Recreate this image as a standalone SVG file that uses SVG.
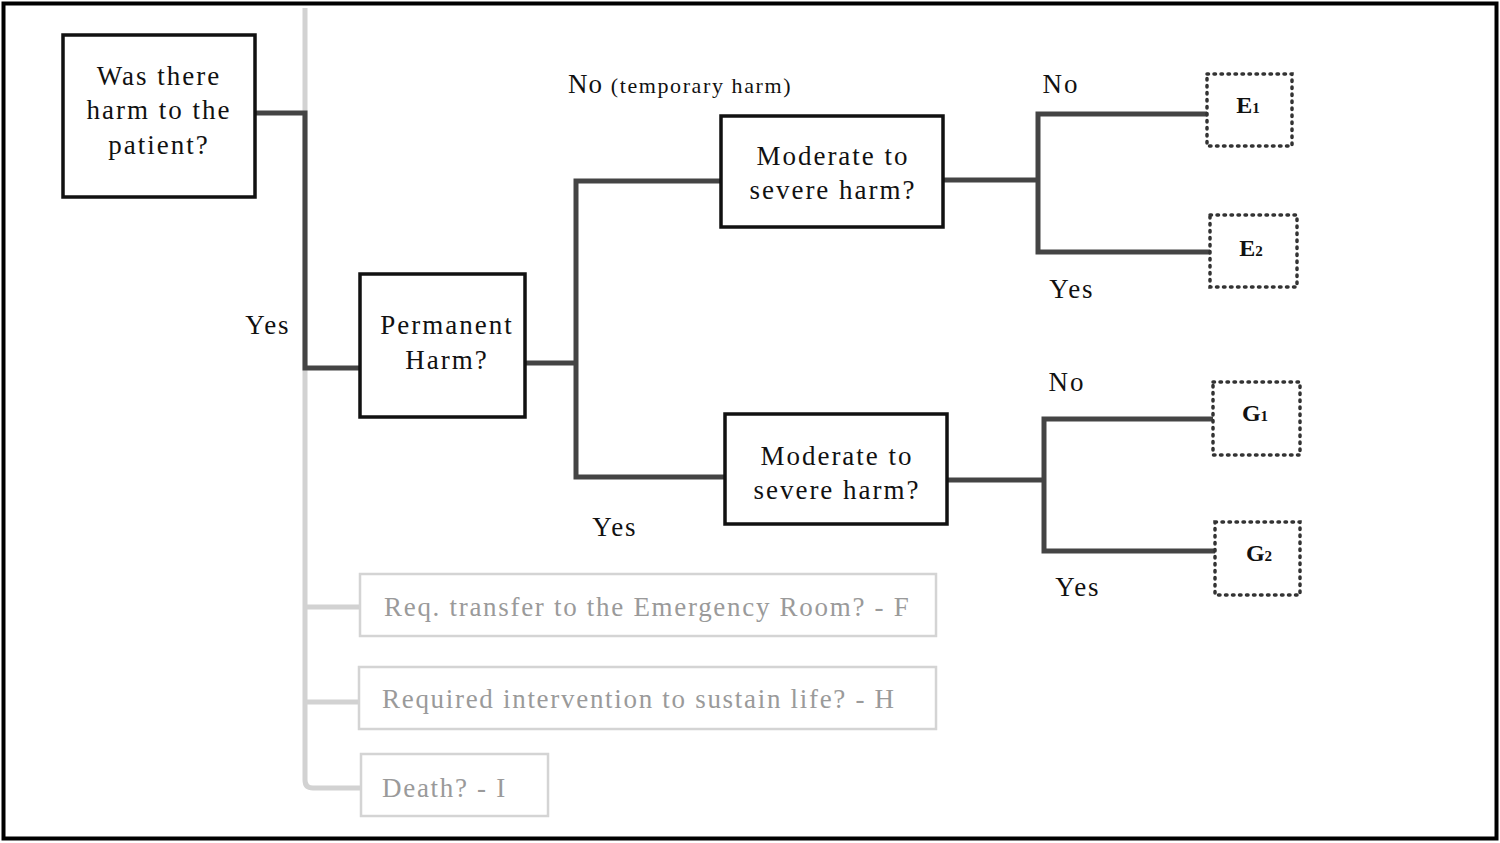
<svg xmlns="http://www.w3.org/2000/svg" width="1500" height="843" viewBox="0 0 1500 843">
<style>
.t{font-family:"Liberation Serif","Times New Roman",serif;font-size:27px;fill:#111;text-anchor:middle;letter-spacing:2px}
.g{font-family:"Liberation Serif","Times New Roman",serif;font-size:27px;fill:#9a9a9a;letter-spacing:1.7px}
.box{fill:#fff;stroke:#111;stroke-width:3.5}
.dot{fill:#fff;stroke:#333;stroke-width:3.5;stroke-dasharray:1.5 5.5;stroke-linecap:round}
.gbox{fill:#fff;stroke:#d4d4d4;stroke-width:2.5}
.c{fill:none;stroke:#444;stroke-width:5}
.gc{fill:none;stroke:#d2d2d2;stroke-width:5}
.lbl{font-weight:bold;font-size:24px;letter-spacing:0}
.sub{font-size:15px}
</style>
<rect x="0" y="0" width="1500" height="843" fill="#fff"/>
<rect x="3.5" y="3.5" width="1493" height="835" fill="none" stroke="#000" stroke-width="4"/>
<g id="connectors">
<path class="gc" d="M305 8 V780 Q305 788 313 788 H361"/>
<path class="gc" d="M305 607 H360 M305 702 H359"/>
<path class="c" d="M255 113 H305 V368 H360"/>
<path class="c" d="M525 363 H576 M721 181 H576 V477 H725"/>
<path class="c" d="M943 180 H1038 M1207 114 H1038 V252 H1210"/>
<path class="c" d="M947 480 H1044 M1213 419 H1044 V551 H1215"/>
</g>
<g id="n-harm">
<rect class="box" x="63" y="35" width="192" height="162"/>
<text class="t" x="159" y="85">Was there</text>
<text class="t" x="159" y="119">harm to the</text>
<text class="t" x="159" y="154">patient?</text>
</g>
<text class="t" x="268" y="334">Yes</text>
<g id="n-perm">
<rect class="box" x="360" y="274" width="165" height="143"/>
<text class="t" x="447" y="334">Permanent</text>
<text class="t" x="447" y="369">Harm?</text>
</g>
<text x="568" y="93" style="font-family:'Liberation Serif',serif;font-size:27px;fill:#111;letter-spacing:1px">No <tspan style="font-size:22px;letter-spacing:1.6px">(temporary harm)</tspan></text>
<g id="n-mod1">
<rect class="box" x="721" y="116" width="222" height="111"/>
<text class="t" x="833" y="165">Moderate to</text>
<text class="t" x="833" y="199">severe harm?</text>
</g>
<g id="n-mod2">
<rect class="box" x="725" y="414" width="222" height="110"/>
<text class="t" x="837" y="465">Moderate to</text>
<text class="t" x="837" y="499">severe harm?</text>
</g>
<text class="t" x="615" y="536">Yes</text>
<text class="t" x="1061" y="93">No</text>
<text class="t" x="1072" y="298">Yes</text>
<text class="t" x="1067" y="391">No</text>
<text class="t" x="1078" y="596">Yes</text>
<g id="n-e1">
<rect class="dot" x="1207" y="74" width="85" height="72"/>
<text class="t lbl" x="1248" y="113">E<tspan class="sub">1</tspan></text>
</g>
<g id="n-e2">
<rect class="dot" x="1210" y="215" width="87" height="72"/>
<text class="t lbl" x="1251" y="256">E<tspan class="sub">2</tspan></text>
</g>
<g id="n-g1">
<rect class="dot" x="1213" y="382" width="87" height="73"/>
<text class="t lbl" x="1255" y="421">G<tspan class="sub">1</tspan></text>
</g>
<g id="n-g2">
<rect class="dot" x="1215" y="522" width="85" height="73"/>
<text class="t lbl" x="1259" y="561">G<tspan class="sub">2</tspan></text>
</g>
<g id="n-f">
<rect class="gbox" x="360" y="574" width="576" height="62"/>
<text class="g" x="384" y="616">Req. transfer to the Emergency Room? - F</text>
</g>
<g id="n-h">
<rect class="gbox" x="359" y="667" width="577" height="62"/>
<text class="g" x="382" y="708">Required intervention to sustain life? - H</text>
</g>
<g id="n-i">
<rect class="gbox" x="361" y="754" width="187" height="62"/>
<text class="g" x="382" y="797">Death? - I</text>
</g>
</svg>
